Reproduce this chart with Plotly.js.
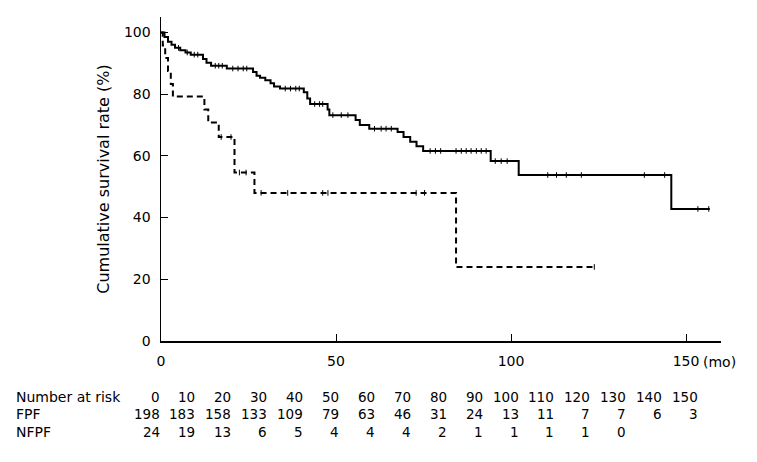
<!DOCTYPE html>
<html><head><meta charset="utf-8">
<script src="https://cdn.plot.ly/plotly-3.0.1.min.js"></script>
<style>html,body{margin:0;padding:0;background:#fff}#chart{width:757px;height:462px}</style>
</head><body><div id="chart"></div>
<script>
// Kaplan-Meier step data (months, % survival)
const fpfTime = [0, 1.0, 2.0, 3.0, 4.0, 5.5, 7.0, 8.5, 12.0, 13.0, 14.3, 18.8, 26.3, 27.3, 28.3, 29.8, 31.3, 32.3, 34.0, 40.8, 41.8, 42.6, 47.6, 48.1, 55.6, 56.8, 59.5, 67.6, 69.3, 71.2, 73.0, 74.9, 94.2, 102.2, 145.8, 156.8];
const fpfSurv = [100, 98.5, 97.0, 96.0, 95.0, 94.2, 93.5, 92.8, 91.4, 90.2, 89.2, 88.3, 87.2, 86.0, 85.3, 84.5, 83.5, 82.5, 81.8, 80.6, 78.6, 76.8, 75.0, 73.2, 71.6, 70.0, 68.8, 67.7, 66.1, 64.6, 63.1, 61.6, 58.3, 53.8, 42.8, 42.8];
const fpfCensor = [5, 7.5, 9.5, 10.5, 15.5, 16.5, 17.5, 20.5, 22, 23.5, 24.5, 35.5, 37, 38.5, 39.5, 43.9, 45.3, 46.2, 49.1, 51.5, 53.4, 61, 62.9, 64.3, 65.8, 76.9, 78.4, 79.9, 84.3, 85.8, 87.2, 88.6, 90.1, 91.5, 92.9, 95.5, 97.2, 98.9, 110.5, 113, 115.8, 120.1, 138.1, 143.9, 153.4, 156.5];

const nfpfTime = [0, 0.5, 1.2, 2.0, 2.8, 3.4, 12.4, 13.5, 16.5, 21.0, 26.7, 84.3, 123.8];
const nfpfSurv = [100, 95.8, 91.7, 87.5, 83.3, 79.2, 75.0, 70.8, 66.1, 54.6, 48.0, 24.0, 24.0];
const nfpfCensor = [17.2, 20, 22.4, 24.3, 28.6, 36.2, 46.2, 47.7, 72.9, 75.3, 123.8];

// Number at risk table
const riskTimes = [0, 10, 20, 30, 40, 50, 60, 70, 80, 90, 100, 110, 120, 130, 140, 150];
const fpfRisk = [198, 183, 158, 133, 109, 79, 63, 46, 31, 24, 13, 11, 7, 7, 6, 3];
const nfpfRisk = [24, 19, 13, 6, 5, 4, 4, 4, 2, 1, 1, 1, 1, 0];
const rowLabels = ["Number at risk", "FPF", "NFPF"];

const xTickVals = [0, 50, 100, 150];
const yTickVals = [0, 20, 40, 60, 80, 100];

function survAt(times, surv, t) {
  let s = surv[0];
  for (let i = 0; i < times.length; i++) if (times[i] <= t) s = surv[i];
  return s;
}

const FONT = "DejaVu Sans, Verdana, sans-serif";

const censorMarker = {symbol: 'line-ns-open', size: 4, color: '#000', line: {width: 1, color: '#000'}};
const traces = [
  {x: fpfTime, y: fpfSurv, mode: 'lines', line: {shape: 'hv', color: '#000', width: 2}},
  {x: fpfCensor, y: fpfCensor.map(t => survAt(fpfTime, fpfSurv, t)), mode: 'markers', marker: censorMarker, cliponaxis: false},
  {x: nfpfTime, y: nfpfSurv, mode: 'lines', line: {shape: 'hv', color: '#000', width: 2, dash: '6px,4px'}},
  {x: nfpfCensor, y: nfpfCensor.map(t => survAt(nfpfTime, nfpfSurv, t)), mode: 'markers', marker: censorMarker, cliponaxis: false}
];

const annotations = [];
const rowShift = [-56, -73, -90.5];
rowLabels.forEach((lab, i) => {
  annotations.push({text: lab, xref: 'paper', yref: 'paper', x: 0, y: 0, xanchor: 'left', yanchor: 'middle',
    xshift: -147, yshift: rowShift[i], showarrow: false, font: {family: FONT, size: 14, color: '#000'}});
});
const rows = [riskTimes, fpfRisk, nfpfRisk];
rows.forEach((vals, r) => {
  vals.forEach((v, j) => {
    const t = riskTimes[j];
    annotations.push({text: String(v), xref: 'x', yref: 'paper', x: t, y: 0, xanchor: 'right', yanchor: 'middle',
      xshift: 0.5 + 0.09 * t, yshift: rowShift[r], showarrow: false, font: {family: FONT, size: 13.5, color: '#000'}});
  });
});
annotations.push({text: '(mo)', xref: 'x', yref: 'paper', x: 150, y: 0, xanchor: 'left', yanchor: 'middle',
  xshift: 15, yshift: -21, showarrow: false, font: {family: FONT, size: 14, color: '#000'}});

const layout = {
  width: 757, height: 462,
  margin: {l: 161, r: 36, t: 17, b: 121, pad: 0},
  paper_bgcolor: '#fff', plot_bgcolor: '#fff',
  showlegend: false,
  font: {family: FONT, size: 14, color: '#000'},
  xaxis: {range: [0, 160], tickvals: xTickVals, ticktext: xTickVals.map(String), ticks: 'inside', ticklen: 7,
    tickcolor: '#000', tickwidth: 1, showline: true, linecolor: '#000', linewidth: 1.5, showgrid: false,
    zeroline: false, ticklabelstandoff: 7, tickfont: {family: FONT, size: 14, color: '#000'}},
  yaxis: {range: [0, 105], tickvals: yTickVals, ticks: 'inside', ticklen: 7, tickcolor: '#000', tickwidth: 1,
    showline: true, linecolor: '#000', linewidth: 1.5, showgrid: false, zeroline: false, ticklabelstandoff: 6,
    tickfont: {family: FONT, size: 14, color: '#000'},
    title: {text: 'Cumulative survival rate (%)', standoff: 10, font: {family: FONT, size: 16, color: '#000'}}},
  annotations: annotations
};

Plotly.newPlot('chart', traces, layout, {staticPlot: true, displayModeBar: false});
</script>
</body></html>
